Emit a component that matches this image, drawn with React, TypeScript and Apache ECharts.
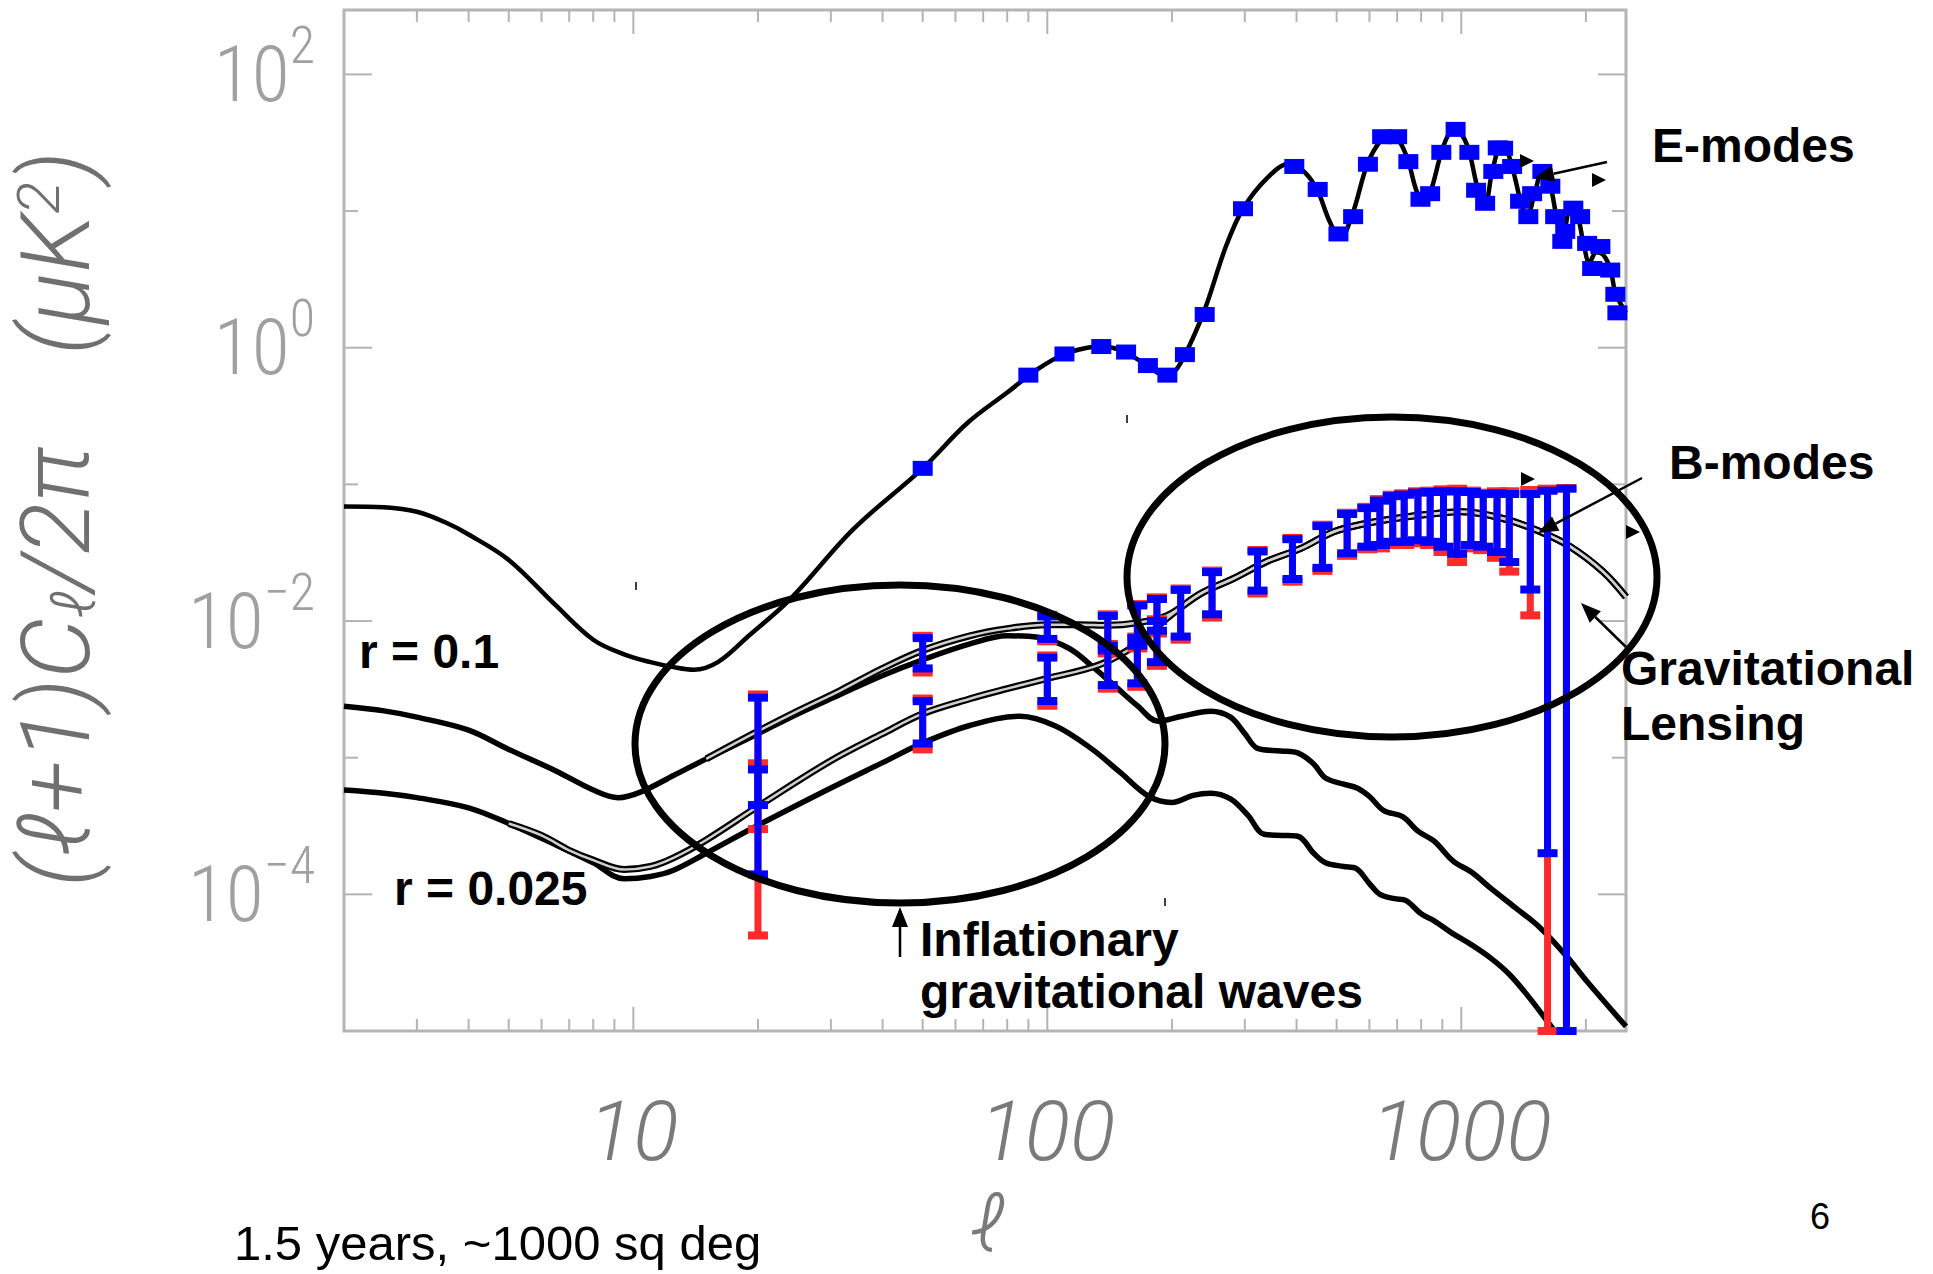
import React, { useEffect, useRef } from "react";
import * as echarts from "echarts";

const X_MIN = 2;
const X_MAX = 2500;
const Y_MIN = 1e-5;
const Y_MAX = 296;

const xMajorTicks = [10, 100, 1000];
const xMinorTicks = [3, 4, 5, 6, 7, 8, 9, 20, 30, 40, 50, 60, 70, 80, 90, 200, 300, 400, 500, 600, 700, 800, 900, 2000];
const yMajorTicks = [1e-4, 1e-2, 1, 100];
const yMinorTicks = [1e-3, 0.1, 10];

// E-mode theory curve [l, (l+1)Cl/2pi]
const eModeCurve = [
  [2, 0.069], [2.5, 0.068], [3, 0.063], [3.5, 0.053], [4, 0.043], [5, 0.028], [6.5, 0.013], [8, 0.0073],
  [9.5, 0.0057], [11, 0.005], [12.5, 0.0046], [14, 0.0044], [16, 0.005], [19, 0.0078], [24, 0.0146],
  [34, 0.047], [50, 0.131], [64, 0.28], [80, 0.47], [95, 0.7], [110, 0.9], [125, 1.0], [135, 1.02],
  [150, 0.96], [170, 0.78], [190, 0.64], [200, 0.65], [215, 0.89], [240, 1.9], [270, 5.5], [297, 10.4],
  [340, 17.5], [385, 22.3], [420, 19], [450, 14], [480, 8.5], [510, 6.3], [546, 9.5], [593, 22],
  [640, 33], [674, 35.2], [710, 32], [745, 23], [780, 14], [815, 11.2], [850, 15], [895, 26.9],
  [935, 37], [969, 39.6], [1010, 35], [1046, 27], [1100, 14], [1142, 11.4], [1188, 19.5], [1240, 28],
  [1275, 28], [1327, 21], [1400, 11], [1443, 9.1], [1500, 13], [1570, 19.5], [1641, 15.2], [1700, 9],
  [1760, 6.5], [1830, 9.8], [1900, 9.5], [1970, 6], [2040, 4.2], [2120, 5], [2200, 4.8], [2290, 3.8],
  [2360, 2.5], [2500, 1.8],
];

// tensor-only B-mode, r = 0.1
const tensorR01 = [
  [2, 0.00238], [2.5, 0.0022], [3, 0.00198], [4, 0.00159], [5, 0.00115], [6.5, 0.0008], [8, 0.00058],
  [9.2, 0.00051], [10.4, 0.00056], [12.5, 0.00074], [15, 0.00098], [19.5, 0.00144], [25, 0.0021],
  [31.6, 0.0029], [40, 0.004], [50, 0.0052], [65, 0.0068], [80, 0.0078], [95, 0.0076], [113, 0.0063],
  [128, 0.0047], [144, 0.00345], [165, 0.0024], [185, 0.00185], [210, 0.002], [248, 0.00219],
  [277, 0.00198], [300, 0.0015], [322, 0.00117], [366, 0.00112], [404, 0.00108], [440, 0.0009],
  [470, 0.00071], [520, 0.00064], [560, 0.0006], [600, 0.00052], [650, 0.00041], [722, 0.00037],
  [786, 0.00029], [860, 0.000245], [956, 0.000175], [1060, 0.000145], [1177, 0.000111], [1350, 0.00008],
  [1550, 0.000057], [1800, 0.000035], [2013, 0.000023], [2500, 0.0000108],
];

// tensor-only B-mode, r = 0.025
const tensorR025 = [
  [2, 0.00058], [2.5, 0.00055], [3, 0.00051], [4, 0.00043], [5, 0.00033], [6.5, 0.00023], [8, 0.00017],
  [9.5, 0.00013], [11, 0.000135], [12.5, 0.00015], [15, 0.0002], [20, 0.00032], [30, 0.0006],
  [40, 0.00092], [50, 0.00128], [65, 0.00172], [86, 0.00201], [105, 0.0017], [128, 0.00116],
  [150, 0.00078], [176, 0.00052], [200, 0.00047], [225, 0.00053], [248, 0.00055], [277, 0.0005],
  [305, 0.00038], [334, 0.000275], [370, 0.00027], [404, 0.000265], [440, 0.0002], [470, 0.00017],
  [520, 0.00016], [557, 0.000155], [600, 0.00012], [636, 0.0001], [690, 0.000093], [736, 0.00009],
  [800, 0.000072], [860, 0.000064], [950, 0.000052], [1055, 0.000043], [1180, 0.000034],
  [1306, 0.000026], [1450, 0.000018], [1594, 0.0000124], [1700, 0.0000095], [1800, 0.000007],
];

// tensor + lensing, low-l part
const totalR01Low = [
  [15, 0.00098], [19.5, 0.0015], [25, 0.0022], [31.6, 0.0031], [40, 0.0045], [50, 0.0061], [65, 0.0078],
  [80, 0.0088], [100, 0.0094], [120, 0.0094], [140, 0.0093], [165, 0.0097], [195, 0.011],
];
const totalR025Low = [
  [5, 0.00033], [6, 0.00027], [7, 0.00021], [8, 0.000178], [9.5, 0.000152], [11, 0.00016],
  [12.5, 0.000185], [15, 0.00025], [20, 0.00044], [30, 0.00095], [40, 0.0015], [50, 0.0021],
  [65, 0.0027], [80, 0.0032], [100, 0.0038], [134, 0.0048], [165, 0.0068], [195, 0.0105],
];
// lensing-dominated high-l part shared by both totals
const lensingTail = [
  [234, 0.0158], [283, 0.0206], [340, 0.0274], [410, 0.034], [492, 0.045], [593, 0.052], [712, 0.057],
  [860, 0.061], [1000, 0.063], [1241, 0.057], [1528, 0.046], [1834, 0.035], [2200, 0.023], [2500, 0.015],
];

// E-mode simulated data points [l, value]
const eModePoints = [
  [50, 0.131], [90, 0.63], [110, 0.9], [135, 1.02], [155, 0.93], [175, 0.74], [195, 0.63], [215, 0.89],
  [240, 1.75], [297, 10.4], [395, 21.2], [450, 14.4], [505, 6.8], [548, 9.1], [595, 22], [644, 35],
  [700, 35], [745, 23], [797, 12.2], [841, 13.4], [895, 26.9], [969, 39.6], [1046, 26.9], [1086, 14.2],
  [1142, 11.4], [1195, 19.5], [1225, 29], [1262, 28.8], [1327, 21.2], [1387, 11.8], [1452, 9.1],
  [1483, 13.4], [1570, 19.5], [1641, 15.2], [1686, 9.1], [1754, 6.0], [1783, 7.1], [1865, 10.5],
  [1937, 9.1], [2014, 5.8], [2071, 3.8], [2168, 5.5], [2290, 3.7], [2356, 2.46], [2383, 1.8],
];

// B-mode simulated data [l, value, sigma (blue), sigma (red)]
const bModeR01 = [
  [20, 0.0016, 0.00115, 0.0013], [50, 0.006, 0.0015, 0.0018], [100, 0.0091, 0.0017, 0.002],
  [140, 0.0085, 0.0024, 0.0027], [165, 0.0098, 0.0032, 0.0035], [184, 0.0115, 0.003, 0.0034],
  [210, 0.0123, 0.0046, 0.005], [250, 0.017, 0.0058, 0.0064], [322, 0.0245, 0.0078, 0.0086],
  [391, 0.03, 0.0097, 0.0106], [462, 0.037, 0.0125, 0.0137], [530, 0.046, 0.0147, 0.016],
  [593, 0.051, 0.016, 0.0175], [636, 0.056, 0.02, 0.022], [683, 0.06, 0.022, 0.024],
  [728, 0.061, 0.023, 0.025], [786, 0.063, 0.024, 0.026], [841, 0.063, 0.025, 0.027],
  [906, 0.062, 0.027, 0.03], [977, 0.06, 0.029, 0.033], [1055, 0.062, 0.026, 0.028],
  [1130, 0.06, 0.025, 0.027], [1220, 0.059, 0.027, 0.03], [1306, 0.056, 0.029, 0.033],
  [1468, 0.051, 0.034, 0.04], [1616, 0.045, 0.0448, 0.048], [1795, 0.045, 0.048, 0.049],
];
const bModeR025 = [
  [20, 0.00048, 0.00034, 0.00043], [50, 0.00193, 0.00066, 0.00078], [100, 0.004, 0.0014, 0.0016],
  [140, 0.005, 0.0016, 0.0018], [165, 0.0055, 0.002, 0.0022], [184, 0.0075, 0.0025, 0.0028],
];

const TICK_COLOR = "#b4b4b4";

function tickSeries(values: number[], orient: string, len: number) {
  const data = values.map((v) => (orient === "x" ? [v, 1] : [10, v]));
  return {
    type: "custom",
    silent: true,
    z: 1,
    data,
    renderItem: (_p: any, api: any) => {
      const style = { stroke: TICK_COLOR, lineWidth: 2 };
      if (orient === "x") {
        const val = api.value(0);
        const b = api.coord([val, Y_MIN]);
        const t = api.coord([val, Y_MAX]);
        return {
          type: "group",
          children: [
            { type: "line", shape: { x1: b[0], y1: b[1], x2: b[0], y2: b[1] - len }, style },
            { type: "line", shape: { x1: t[0], y1: t[1], x2: t[0], y2: t[1] + len }, style },
          ],
        };
      }
      const val = api.value(1);
      const l = api.coord([X_MIN, val]);
      const r = api.coord([X_MAX, val]);
      return {
        type: "group",
        children: [
          { type: "line", shape: { x1: l[0], y1: l[1], x2: l[0] + len, y2: l[1] }, style },
          { type: "line", shape: { x1: r[0], y1: r[1], x2: r[0] - len, y2: r[1] }, style },
        ],
      };
    },
  };
}

function errorBarSeries(data: number[][], sigmaDim: number, color: string, z: number) {
  return {
    type: "custom",
    silent: true,
    z,
    data,
    encode: { x: 0, y: 1 },
    renderItem: (_p: any, api: any) => {
      const l = api.value(0);
      const v = api.value(1);
      const s = api.value(sigmaDim);
      const hi = api.coord([l, v + s]);
      const lo = api.coord([l, Math.max(v - s, Y_MIN)]);
      const capW = 20;
      const capH = 8;
      const stemW = 7;
      const style = { fill: color };
      return {
        type: "group",
        children: [
          { type: "rect", shape: { x: hi[0] - stemW / 2, y: hi[1], width: stemW, height: lo[1] - hi[1] }, style },
          { type: "rect", shape: { x: hi[0] - capW / 2, y: hi[1] - capH / 2, width: capW, height: capH }, style },
          { type: "rect", shape: { x: lo[0] - capW / 2, y: lo[1] - capH / 2, width: capW, height: capH }, style },
        ],
      };
    },
  };
}

function curve(data: number[][], width: number, color: string, z: number) {
  return {
    type: "line",
    data,
    symbol: "none",
    showSymbol: false,
    smooth: 0.35,
    silent: true,
    clip: true,
    z,
    lineStyle: { width, color },
  };
}

function arrow(x1: number, y1: number, x2: number, y2: number) {
  const ang = Math.atan2(y2 - y1, x2 - x1);
  const hl = 20;
  const hw = 8;
  const c = Math.cos(ang);
  const s = Math.sin(ang);
  const bx = x2 - hl * c;
  const by = y2 - hl * s;
  return [
    { type: "line", z: 100, shape: { x1, y1, x2: bx, y2: by }, style: { stroke: "#000", lineWidth: 2.5 } },
    {
      type: "polygon",
      z: 100,
      shape: { points: [[x2, y2], [bx - hw * s, by + hw * c], [bx + hw * s, by - hw * c]] },
      style: { fill: "#000" },
    },
  ];
}

function triangle(cx: number, cy: number) {
  return {
    type: "polygon",
    z: 100,
    shape: { points: [[cx - 7, cy - 7], [cx + 7, cy], [cx - 7, cy + 7]] },
    style: { fill: "#000" },
  };
}

const BOLD = '"Liberation Sans", Arial, sans-serif';

function label(text: string, x: number, y: number, size = 48, weight = "bold") {
  return {
    type: "text",
    z: 100,
    x,
    y,
    style: {
      text,
      fill: "#000",
      fontSize: size,
      fontWeight: weight,
      fontFamily: BOLD,
      align: "left",
      verticalAlign: "middle",
      textAlign: "left",
      textVerticalAlign: "middle",
    },
  };
}

export default function App() {
  const ref = useRef<HTMLDivElement>(null);

  useEffect(() => {
    if (!ref.current) return;
    const chart = echarts.init(ref.current, undefined, { renderer: "svg" });

    const totalR01 = totalR01Low.concat(lensingTail);
    const totalR025 = totalR025Low.concat(lensingTail);

    const yLabelColor = "#a0a0a0";
    const numFont = '"Liberation Sans Narrow", "Roboto Condensed", Roboto, sans-serif';
    const titleFont = 'Roboto, "DejaVu Sans", sans-serif';
    const titleColor = "#707070";
    const xLabelColor = "#7a7a7a";

    const option: any = {
      animation: false,
      backgroundColor: "#ffffff",
      grid: {
        left: 344,
        top: 10,
        width: 1282,
        height: 1021,
        show: true,
        borderColor: TICK_COLOR,
        borderWidth: 3,
        backgroundColor: "transparent",
      },
      xAxis: {
        type: "log",
        logBase: 10,
        min: X_MIN,
        max: X_MAX,
        axisLine: { show: false },
        axisTick: { show: false },
        splitLine: { show: false },
        axisLabel: {
          showMinLabel: false,
          showMaxLabel: false,
          margin: 58,
          fontSize: 84,
          lineHeight: 84,
          fontStyle: "italic",
          fontWeight: 300,
          fontFamily: "Roboto, sans-serif",
          color: xLabelColor,
          formatter: (val: number) => {
            const lg = Math.log10(val);
            const e = Math.round(lg);
            if (Math.abs(lg - e) > 1e-6) return "";
            return String(Math.round(Math.pow(10, e)));
          },
        },
      },
      yAxis: {
        type: "log",
        logBase: 10,
        min: Y_MIN,
        max: Y_MAX,
        axisLine: { show: false },
        axisTick: { show: false },
        splitLine: { show: false },
        axisLabel: {
          showMinLabel: false,
          showMaxLabel: false,
          margin: 29,
          color: yLabelColor,
          formatter: (val: number) => {
            const lg = Math.log10(val);
            const e = Math.round(lg);
            if (Math.abs(lg - e) > 1e-6 || e % 2 !== 0) return "";
            const s = e < 0 ? "\u2212" + Math.abs(e) : String(e);
            return "{b|10}{s|" + s + "}";
          },
          rich: {
            b: { fontSize: 78, lineHeight: 110, fontFamily: numFont, fontWeight: 300, color: yLabelColor, verticalAlign: "middle" },
            s: { fontSize: 52, lineHeight: 52, fontFamily: numFont, fontWeight: 300, color: yLabelColor, verticalAlign: "top" },
          },
        },
      },
      series: [
        tickSeries(xMajorTicks, "x", 24),
        tickSeries(xMinorTicks, "x", 12),
        tickSeries(yMajorTicks, "y", 28),
        tickSeries(yMinorTicks, "y", 14),
        curve(tensorR01, 5.5, "#000", 2),
        curve(tensorR025, 5.5, "#000", 2),
        curve(totalR01, 7, "#000", 2),
        curve(totalR01, 2.5, "#cfcfcf", 3),
        curve(totalR025, 7, "#000", 2),
        curve(totalR025, 2.5, "#cfcfcf", 3),
        curve(eModeCurve, 4.5, "#000", 2),
        errorBarSeries(bModeR01, 3, "#ff2a2a", 4),
        errorBarSeries(bModeR025, 3, "#ff2a2a", 4),
        errorBarSeries(bModeR01, 2, "#0000ff", 5),
        errorBarSeries(bModeR025, 2, "#0000ff", 5),
        {
          type: "scatter",
          data: eModePoints,
          symbol: "rect",
          symbolSize: [20, 15],
          silent: true,
          z: 5,
          itemStyle: { color: "#0000ff", opacity: 1 },
        },
      ],
      graphic: [
        {
          type: "ellipse",
          z: 100,
          shape: { cx: 900, cy: 744, rx: 265, ry: 159 },
          style: { fill: "none", stroke: "#000", lineWidth: 7 },
        },
        {
          type: "ellipse",
          z: 100,
          shape: { cx: 1392, cy: 577, rx: 265, ry: 160 },
          style: { fill: "none", stroke: "#000", lineWidth: 7 },
        },
        ...arrow(1607, 162, 1534, 178),
        ...arrow(1642, 478, 1538, 533),
        ...arrow(1626, 647, 1581, 603),
        ...arrow(900, 957, 900, 907),
        triangle(1527, 161),
        triangle(1599, 180),
        triangle(1528, 479),
        triangle(1633, 532),
        { type: "line", z: 100, shape: { x1: 1127, y1: 415, x2: 1127, y2: 423 }, style: { stroke: "#000", lineWidth: 1.5 } },
        { type: "line", z: 100, shape: { x1: 636, y1: 582, x2: 636, y2: 590 }, style: { stroke: "#000", lineWidth: 1.5 } },
        { type: "line", z: 100, shape: { x1: 1165, y1: 898, x2: 1165, y2: 906 }, style: { stroke: "#000", lineWidth: 1.5 } },
        label("E-modes", 1652, 145),
        label("B-modes", 1669, 462),
        label("Gravitational", 1621, 668),
        label("Lensing", 1621, 723),
        label("r = 0.1", 359, 651),
        label("r = 0.025", 394, 888),
        label("Inflationary", 920, 939),
        label("gravitational waves", 920, 991),
        label("1.5 years, ~1000 sq deg", 234, 1243, 49, "normal"),
        label("6", 1810, 1216, 36, "normal"),
        // axis titles
        {
          type: "text",
          z: 100,
          x: 56,
          y: 519,
          rotation: Math.PI / 2,
          style: {
            text: "(\u2113+1)C{sub|\u2113}/2\u03c0    (\u03bcK{sup|2})",
            fill: titleColor,
            fontSize: 96,
            fontStyle: "italic",
            fontWeight: 300,
            fontFamily: titleFont,
            align: "center",
            verticalAlign: "middle",
            textAlign: "center",
            textVerticalAlign: "middle",
            rich: {
              sub: { fontSize: 60, fontStyle: "italic", fontWeight: 300, fontFamily: titleFont, fill: titleColor, verticalAlign: "bottom", lineHeight: 96 },
              sup: { fontSize: 60, fontStyle: "italic", fontWeight: 300, fontFamily: titleFont, fill: titleColor, verticalAlign: "top", lineHeight: 60 },
            },
          },
        },
        {
          type: "text",
          z: 100,
          x: 987,
          y: 1224,
          style: {
            text: "\u2113",
            fill: xLabelColor,
            fontSize: 78,
            fontStyle: "italic",
            fontWeight: 300,
            fontFamily: "Roboto, sans-serif",
            align: "center",
            verticalAlign: "middle",
            textAlign: "center",
            textVerticalAlign: "middle",
          },
        },
      ],
    };

    chart.setOption(option);
    return () => chart.dispose();
  }, []);

  return (
    <div
      ref={ref}
      style={{ position: "fixed", left: 0, top: 0, width: 1933, height: 1274, background: "#fff" }}
    />
  );
}
